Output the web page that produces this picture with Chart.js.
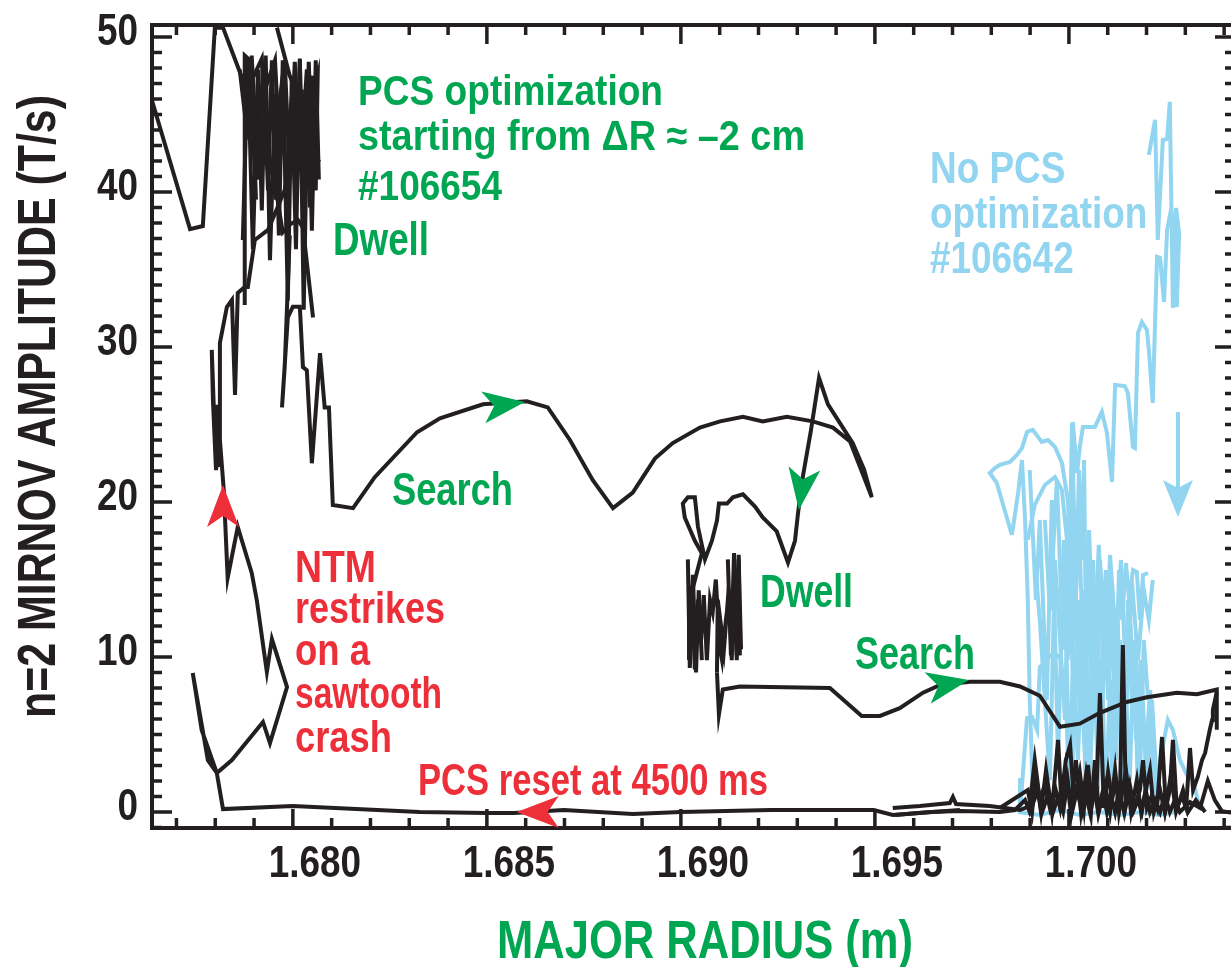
<!DOCTYPE html>
<html>
<head>
<meta charset="utf-8">
<title>n=2 Mirnov amplitude vs major radius</title>
<script src="https://cdn.jsdelivr.net/npm/chart.js@4.4.1/dist/chart.umd.min.js"></script>
<style>
  html, body { margin: 0; padding: 0; background: #fff; overflow: hidden; }
  #wrap { width: 1240px; height: 967px; }
  canvas { display: block; }
</style>
</head>
<body>
<div id="wrap"><canvas id="myChart" width="1240" height="967"></canvas></div>
<script>
// ---- shot #106654 (PCS optimization), major radius R (m) vs amplitude (T/s)
const startR = [1.67637, 1.67735, 1.67768, 1.67799, 1.67820, 1.67876, 1.67920, 1.67954, 1.67974, 1.67992, 1.68013, 1.68026, 1.68052];
const startAmp = [45.9, 37.6, 37.8, 50.6, 50.6, 46.9, 43.7, 40.5, 37.4, 37.9, 38.2, 37.7, 31.9];

const dwellR = [1.67876, 1.67876, 1.67889, 1.67905, 1.67894, 1.67920, 1.67930, 1.67941, 1.67928, 1.67954, 1.67966, 1.67974, 1.67985, 1.67992, 1.68000, 1.68010, 1.68018, 1.68026, 1.68031, 1.68036, 1.68044, 1.68049, 1.68052, 1.68057, 1.68070];
const dwellAmp = [32.7, 48.8, 48.5, 39.5, 47.2, 48.6, 43.4, 41.6, 46.6, 48.5, 42.7, 47.4, 37.4, 44.6, 46.8, 41.4, 48.6, 39.5, 45.9, 47.9, 39.0, 45.3, 47.5, 41.9, 42.1];

const dwellBR = [1.67863, 1.67884, 1.67894, 1.67910, 1.67923, 1.67936, 1.67946, 1.67956, 1.67966, 1.67979, 1.67992, 1.68005, 1.68013, 1.68023, 1.68031, 1.68041, 1.68046, 1.68054, 1.68059, 1.68064, 1.68031, 1.68010, 1.67992, 1.67959];
const dwellBAmp = [47.9, 43.4, 48.8, 40.8, 48.2, 40.1, 48.5, 39.5, 45.9, 48.5, 41.1, 48.4, 43.4, 46.6, 40.8, 48.4, 44.6, 46.6, 40.1, 47.5, 44.0, 46.3, 47.5, 50.6];

const dwellCR = [1.67871, 1.67884, 1.67897, 1.67910, 1.67920, 1.67930, 1.67941, 1.67954, 1.67964, 1.67974, 1.67987, 1.67997, 1.68008, 1.68018, 1.68028, 1.68039, 1.68049, 1.68059, 1.68067];
const dwellCAmp = [36.9, 48.5, 36.3, 47.9, 38.8, 48.8, 35.6, 46.3, 37.2, 48.5, 33.0, 47.2, 36.3, 48.5, 32.4, 47.5, 37.5, 48.5, 40.8];

const searchR = [1.67992, 1.67979, 1.67972, 1.67987, 1.68000, 1.68018, 1.68026, 1.68036, 1.68049, 1.68070, 1.68082, 1.68093, 1.68103, 1.68155, 1.68211, 1.68320, 1.68379, 1.68490, 1.68603, 1.68657, 1.68714, 1.68773, 1.68825, 1.68876, 1.68933, 1.68979, 1.69049, 1.69101, 1.69160, 1.69211, 1.69273, 1.69340, 1.69392, 1.69436, 1.69461, 1.69492, 1.69472, 1.69443, 1.69379, 1.69356, 1.69335, 1.69314, 1.69302, 1.69294, 1.69276, 1.69247, 1.69211, 1.69191, 1.69160, 1.69134, 1.69119, 1.69098, 1.69093, 1.69080, 1.69062, 1.69044, 1.69036, 1.69018, 1.69005, 1.69010, 1.69036, 1.69054];
const searchAmp = [37.2, 28.7, 26.1, 31.9, 32.6, 32.6, 28.7, 28.5, 22.5, 29.6, 26.1, 26.1, 19.8, 19.6, 21.6, 24.5, 25.4, 26.3, 26.5, 26.1, 24.0, 21.4, 19.6, 20.6, 22.8, 23.8, 24.8, 25.2, 25.5, 25.2, 25.5, 25.2, 24.8, 23.9, 22.3, 20.3, 22.1, 23.8, 26.3, 28.0, 24.6, 21.6, 19.3, 17.5, 16.1, 18.1, 19.0, 19.7, 20.5, 20.3, 19.9, 19.9, 18.8, 17.5, 16.3, 18.4, 20.3, 20.3, 19.9, 19.0, 17.5, 16.7];

const dwellMidR = [1.69054, 1.69023, 1.69021, 1.69028, 1.69036, 1.69044, 1.69052, 1.69059, 1.69067, 1.69075, 1.69082, 1.69090, 1.69101, 1.69106, 1.69116, 1.69124, 1.69131, 1.69139, 1.69144, 1.69149, 1.69152, 1.69142, 1.69134, 1.69121, 1.69111, 1.69095, 1.69093];
const dwellMidAmp = [16.7, 13.7, 9.8, 14.6, 9.2, 13.7, 11.1, 14.0, 9.8, 13.7, 12.9, 15.0, 10.5, 9.8, 12.4, 14.0, 9.8, 15.3, 10.1, 16.6, 10.1, 14.3, 11.1, 13.7, 10.5, 13.7, 9.0];

const dwellMidBR = [1.69018, 1.69023, 1.69031, 1.69039, 1.69046, 1.69054];
const dwellMidBAmp = [16.3, 9.3, 15.3, 9.0, 14.3, 9.8];

const dwellMidCR = [1.69121, 1.69129, 1.69137, 1.69144, 1.69149, 1.69155];
const dwellMidCAmp = [16.3, 10.1, 16.7, 9.8, 16.3, 10.5];

const search2R = [1.69093, 1.69098, 1.69108, 1.69152, 1.69384, 1.69466, 1.69513, 1.69564, 1.69624, 1.69668, 1.69745, 1.69822, 1.69874, 1.69925, 1.69977, 1.70028, 1.70080, 1.70149, 1.70201, 1.70278, 1.70330, 1.70381, 1.70381];
const search2Amp = [9.0, 6.3, 7.9, 8.1, 8.0, 6.2, 6.2, 6.7, 7.7, 8.2, 8.4, 8.4, 8.1, 7.5, 5.5, 5.7, 6.4, 7.1, 7.4, 7.7, 7.6, 7.9, 5.3];

const burstR = [1.69546, 1.69616, 1.69693, 1.69701, 1.69709, 1.69796, 1.69874, 1.69899, 1.69912, 1.69925, 1.69938, 1.69951, 1.69966, 1.69977, 1.69992, 1.70003, 1.70013, 1.70028, 1.70039, 1.70049, 1.70059, 1.70072, 1.70080, 1.70090, 1.70101, 1.70111, 1.70121, 1.70131, 1.70139, 1.70147, 1.70157, 1.70168, 1.70183, 1.70191, 1.70201, 1.70214, 1.70227, 1.70240, 1.70250, 1.70260, 1.70268, 1.70278, 1.70291, 1.70302, 1.70312, 1.70320, 1.70332, 1.70343, 1.70351, 1.70356, 1.70363, 1.70369, 1.70371, 1.70381];
const burstAmp = [0.26, 0.39, 0.58, 0.97, 0.52, 0.39, 0.13, 0.39, 3.35, 0.77, 1.74, 0.26, 1.42, 0.26, 3.35, 4.32, 0.77, 2.58, 0.26, 3.03, 0.45, 2.06, 7.68, 0.26, 2.58, 0.77, 2.06, 0.26, 10.77, 0.45, 1.74, 0.26, 1.42, 3.35, 0.26, 1.10, 0.26, 4.84, 0.26, 1.42, 4.65, 0.26, 1.03, 0.26, 4.13, 1.42, 2.26, 3.35, 3.81, 4.45, 5.29, 5.94, 6.58, 7.74];

const burstBR = [1.69822, 1.69894, 1.69905, 1.69915, 1.69928, 1.69941, 1.69956, 1.69972, 1.69982, 1.69992, 1.70005, 1.70018, 1.70031, 1.70044, 1.70057, 1.70067, 1.70077, 1.70093, 1.70106, 1.70119, 1.70129, 1.70147, 1.70160, 1.70175, 1.70186, 1.70209, 1.70219, 1.70235, 1.70247, 1.70263, 1.70276, 1.70294, 1.70307, 1.70327, 1.70351];
const burstBAmp = [0.26, 1.42, 0, 2.39, 0, 2.71, 0, 4.65, 0, 2.71, 0, 3.35, 0, 2.39, 0, 3.35, 0, 1.74, 0, 2.71, 0, 2.71, 0, 2.06, 0, 2.71, 0, 1.42, 0, 2.39, 0, 1.42, 0, 0.77, 0];

const quietR = [1.69552, 1.69642, 1.69719, 1.69822, 1.69861, 1.69887, 1.69899, 1.69920, 1.69930, 1.69946, 1.69959, 1.69972, 1.69985, 1.69997, 1.70008, 1.70021, 1.70034, 1.70044, 1.70054, 1.70064, 1.70075, 1.70088, 1.70098, 1.70108, 1.70119, 1.70129, 1.70142, 1.70152, 1.70165, 1.70178, 1.70188, 1.70198, 1.70209, 1.70222, 1.70235, 1.70247, 1.70260, 1.70273, 1.70286, 1.70312, 1.70338, 1.70358, 1.70376, 1.70394, 1.70425];
const quietAmp = [-0.19, 0, 0.06, 0, 0.13, 0.77, 0, 1.42, -0.06, 1.10, 0, 0.97, 0, 2.06, 0, 1.42, 0, 1.10, 0, 1.74, 0, 1.42, 0, 1.10, 0, 1.42, 0, 1.10, 0, 0.77, 0, 1.42, 0, 0.77, 0, 1.10, 0, 0.77, 0, 0.65, 0.26, 2.0, 0.77, 0.06, -0.06];

// reset to the inner position, then the NTM comes back
const resetR = [1.69719, 1.69546, 1.69497, 1.69232, 1.69000, 1.68876, 1.68698, 1.68570, 1.68500, 1.68327, 1.68000, 1.67820, 1.67804, 1.67781, 1.67742, 1.67765, 1.67804, 1.67843, 1.67923, 1.67941, 1.67985, 1.67946, 1.67933, 1.67907, 1.67894, 1.67858, 1.67832, 1.67822, 1.67812, 1.67802, 1.67794, 1.67791, 1.67799, 1.67804, 1.67812, 1.67812, 1.67830, 1.67843, 1.67851, 1.67858, 1.67876, 1.67884, 1.67902, 1.67936, 1.67961, 1.67979, 1.68005, 1.68018];
const resetAmp = [0.13, -0.19, 0.13, 0.13, 0, -0.13, 0.13, -0.06, -0.06, 0, 0.39, 0.19, 2.52, 3.35, 8.97, 5.29, 2.52, 3.35, 5.81, 4.45, 8.06, 11.16, 9.03, 13.68, 15.42, 18.39, 15.10, 20.77, 24.0, 22.06, 26.58, 29.81, 24.19, 26.26, 22.26, 30.26, 32.58, 33.03, 26.90, 33.48, 33.87, 33.87, 36.90, 37.55, 39.03, 40.13, 44.6, 46.3];

// ---- shot #106642 (no PCS optimization)
const noPcsR = [1.70010, 1.70010, 1.70021, 1.70028, 1.70036, 1.70067, 1.70085, 1.70098, 1.70111, 1.70119, 1.70144, 1.70152, 1.70165, 1.70170, 1.70178, 1.70188, 1.70201, 1.70206, 1.70216, 1.70227, 1.70235, 1.70245, 1.70253, 1.70263, 1.70273, 1.70278, 1.70284, 1.70276, 1.70268, 1.70260, 1.70253, 1.70242, 1.70229, 1.70222, 1.70206];
const noPcsAmp = [0.77, 25.16, 21.87, 23.55, 24.84, 24.84, 25.81, 24.45, 21.29, 27.55, 27.48, 27.03, 23.55, 23.48, 30.90, 31.61, 31.10, 29.81, 26.39, 35.81, 35.74, 32.90, 37.55, 38.84, 37.55, 32.58, 37.35, 38.97, 32.52, 45.81, 43.42, 43.35, 36.90, 44.65, 42.39];

const noPcsLeftR = [1.69853, 1.69814, 1.69796, 1.69809, 1.69822, 1.69848, 1.69866, 1.69879, 1.69892, 1.69907, 1.69930, 1.69946, 1.69964, 1.69982, 1.69997, 1.70010, 1.70023, 1.70036, 1.70049];
const noPcsLeftAmp = [17.87, 21.23, 21.87, 22.19, 22.39, 22.58, 23.03, 23.48, 24.52, 24.65, 23.87, 24.0, 23.55, 22.52, 20.13, 16.26, 11.10, 5.94, 0.77];

const noPcsDropR = [1.69853, 1.69869, 1.69879, 1.69887, 1.69894, 1.69899, 1.69907];
const noPcsDropAmp = [17.87, 20.58, 22.71, 18.84, 13.68, 7.23, 1.42];

const noPcsLensR = [1.69894, 1.69912, 1.69938, 1.69964, 1.69982, 1.69995, 1.70003, 1.69997, 1.70008, 1.70018, 1.70026, 1.70034, 1.70039, 1.70044, 1.70054, 1.70062, 1.70067, 1.70075, 1.70080, 1.70090, 1.70095, 1.70106, 1.70111, 1.70121, 1.70129, 1.70137, 1.70147, 1.70155, 1.70165, 1.70175, 1.70183, 1.70191, 1.70204];
const noPcsLensAmp = [17.55, 19.81, 21.10, 21.61, 20.77, 17.55, 13.68, 9.81, 25.10, 13.68, 22.06, 16.26, 22.71, 11.10, 14.32, 16.26, 13.03, 7.23, 16.26, 12.39, 15.61, 11.10, 14.97, 7.23, 15.61, 12.39, 16.06, 13.68, 15.61, 15.48, 12.39, 15.29, 15.42];

const noPcsMidR = [1.69912, 1.69925, 1.69938, 1.69951, 1.69964, 1.69977, 1.69990, 1.69997, 1.70015, 1.70028, 1.70041, 1.70049, 1.70059, 1.70070, 1.70080, 1.70090, 1.70101, 1.70111, 1.70121, 1.70131, 1.70142, 1.70152, 1.70162, 1.70173, 1.70183, 1.70193, 1.70204];
const noPcsMidAmp = [16.26, 12.39, 7.23, 2.06, 16.26, 11.10, 5.94, 14.97, 7.23, 13.68, 4.65, 14.97, 7.87, 13.68, 3.35, 13.68, 7.23, 13.03, 3.35, 11.10, 4.65, 13.68, 7.23, 11.10, 2.06, 11.10, 7.23];

const noPcsSwingR = [1.69899, 1.69915, 1.69925, 1.69943, 1.69956, 1.69972, 1.69987, 1.70003, 1.70015, 1.70028, 1.70041, 1.70054, 1.70070, 1.70082, 1.70098, 1.70113, 1.70126, 1.70142, 1.70157, 1.70173, 1.70186, 1.70201, 1.70214, 1.70229];
const noPcsSwingAmp = [22.06, 13.68, 18.84, 7.23, 20.13, 3.35, 17.55, 0.77, 16.26, 5.94, 14.32, 2.06, 12.39, 4.65, 13.68, 1.42, 11.10, 3.35, 13.03, 4.65, 9.81, 1.42, 7.23, 0.77];

const noPcsBandR = [1.69938, 1.69951, 1.69969, 1.69985, 1.70000, 1.70013, 1.70026, 1.70039, 1.70052, 1.70064, 1.70077, 1.70093, 1.70106, 1.70121, 1.70134, 1.70149, 1.70162, 1.70178, 1.70193, 1.70206, 1.70216];
const noPcsBandAmp = [18.84, 13.03, 21.42, 10.45, 20.13, 11.10, 18.84, 7.87, 18.19, 9.81, 17.23, 8.52, 16.58, 11.10, 16.26, 7.23, 14.97, 9.81, 14.32, 12.39, 14.97];

const noPcsLowR = [1.69874, 1.69874, 1.69892, 1.69905, 1.69918, 1.69925, 1.69943, 1.69959, 1.69977, 1.69992, 1.70003, 1.70013, 1.70023, 1.70034, 1.70044, 1.70054, 1.70064, 1.70075, 1.70085, 1.70095, 1.70106, 1.70116, 1.70126, 1.70137, 1.70147, 1.70157, 1.70168, 1.70178, 1.70188, 1.70198, 1.70209, 1.70222, 1.70235, 1.70255, 1.70268, 1.70286, 1.70304, 1.70320, 1.70332, 1.70351];
const noPcsLowAmp = [2.19, 0, 6.06, 6.13, 5.29, 9.35, 9.81, 10.26, 10.0, 7.23, 0, 8.52, 3.35, 10.45, 0.77, 7.23, 11.10, 1.42, 9.81, 0, 8.52, 3.35, 12.39, 0.77, 7.87, 2.06, 11.10, 0.77, 7.23, 3.35, 7.87, 0.77, 3.35, 5.94, 5.29, 3.35, 2.39, 2.06, 0.77, 0];

const noPcsBaseR = [1.69869, 1.69925, 1.69977, 1.70028, 1.70080, 1.70131, 1.70183, 1.70235, 1.70273];
const noPcsBaseAmp = [0, -0.19, 0.13, -0.19, 0, -0.19, 0, -0.19, 0];

// arrowheads: tail -> tip, in data units
const arrowTailR = [1.67820, 1.68700, 1.68491, 1.69318, 1.69642, 1.70281];
const arrowTailAmp = [17.0, 0.0, 26.10, 22.13, 8.03, 25.8];
const arrowTipR = [1.67820, 1.68577, 1.68598, 1.69304, 1.69742, 1.70281];
const arrowTipAmp = [21.1, 0.0, 26.45, 19.48, 8.52, 19.03];

const black = "#231f20";
const green = "#00a651";
const red = "#ed2f39";
const blue = "#92d5f0";
const fontFamily = '"Liberation Sans", Arial, sans-serif';
const squeeze = 0.82; // condensed look for the bold sans

const arrowColors = [red, red, green, green, green, blue];

function toPoints(r, amp) {
  return r.map((v, i) => ({ x: v, y: amp[i] }));
}

function trace(r, amp, color) {
  return {
    data: toPoints(r, amp),
    showLine: true,
    borderColor: color,
    borderWidth: 4,
    borderJoinStyle: "miter",
    pointRadius: 0,
    tension: 0,
  };
}

// first dataset is drawn on top, so the black shot goes first
const datasets = [
  trace(startR, startAmp, black),
  trace(dwellR, dwellAmp, black),
  trace(dwellBR, dwellBAmp, black),
  trace(dwellCR, dwellCAmp, black),
  trace(searchR, searchAmp, black),
  trace(dwellMidR, dwellMidAmp, black),
  trace(dwellMidBR, dwellMidBAmp, black),
  trace(dwellMidCR, dwellMidCAmp, black),
  trace(search2R, search2Amp, black),
  trace(burstR, burstAmp, black),
  trace(burstBR, burstBAmp, black),
  trace(quietR, quietAmp, black),
  trace(resetR, resetAmp, black),
  trace(noPcsR, noPcsAmp, blue),
  trace(noPcsLeftR, noPcsLeftAmp, blue),
  trace(noPcsDropR, noPcsDropAmp, blue),
  trace(noPcsLensR, noPcsLensAmp, blue),
  trace(noPcsMidR, noPcsMidAmp, blue),
  trace(noPcsSwingR, noPcsSwingAmp, blue),
  trace(noPcsBandR, noPcsBandAmp, blue),
  trace(noPcsLowR, noPcsLowAmp, blue),
  trace(noPcsBaseR, noPcsBaseAmp, blue),
];

// bold text, squeezed sideways; width (px) wins over the default squeeze
function text(ctx, str, x, y, size, color, width, align) {
  ctx.save();
  ctx.font = "bold " + size + "px " + fontFamily;
  ctx.fillStyle = color;
  ctx.textAlign = align || "left";
  ctx.textBaseline = "alphabetic";
  const w = ctx.measureText(str).width;
  ctx.translate(x, y);
  ctx.scale(width ? width / w : squeeze, 1);
  ctx.fillText(str, 0, 0);
  ctx.restore();
}

function arrowHead(ctx, x0, y0, x1, y1, color, shaft) {
  const ang = Math.atan2(y1 - y0, x1 - x0);
  const len = shaft ? 37 : 42;
  const half = shaft ? 15 : 16;
  const notch = shaft ? 29 : 31;
  ctx.save();
  ctx.translate(x1, y1);
  ctx.rotate(ang);
  if (shaft) {
    const back = Math.hypot(x1 - x0, y1 - y0);
    ctx.strokeStyle = color;
    ctx.lineWidth = 4;
    ctx.beginPath();
    ctx.moveTo(-back, 0);
    ctx.lineTo(-notch + 2, 0);
    ctx.stroke();
  }
  ctx.fillStyle = color;
  ctx.beginPath();
  ctx.moveTo(0, 0);
  ctx.lineTo(-len, -half);
  ctx.lineTo(-notch, 0);
  ctx.lineTo(-len, half);
  ctx.closePath();
  ctx.fill();
  ctx.restore();
}

const framePlugin = {
  id: "frame",
  afterDatasetsDraw(chart) {
    const { ctx, chartArea: a, scales } = chart;
    const x = scales.x;
    const y = scales.y;
    ctx.save();
    ctx.strokeStyle = black;
    ctx.lineCap = "butt";

    // minor ticks every 1 mm, long ones every 5 mm, on both horizontal edges
    ctx.lineWidth = 3.5;
    for (let i = Math.ceil(x.min * 1000); i <= x.max * 1000; i++) {
      const px = x.getPixelForValue(i / 1000);
      const len = i % 5 === 0 ? 19 : 10;
      ctx.beginPath();
      ctx.moveTo(px, a.bottom);
      ctx.lineTo(px, a.bottom - len);
      ctx.moveTo(px, a.top);
      ctx.lineTo(px, a.top + len);
      ctx.stroke();
    }
    for (let j = Math.ceil(y.min); j <= y.max; j++) {
      const py = y.getPixelForValue(j);
      const len = j % 10 === 0 ? 20 : 10;
      ctx.beginPath();
      ctx.moveTo(a.left, py);
      ctx.lineTo(a.left + len, py);
      ctx.moveTo(a.right, py);
      ctx.lineTo(a.right - len, py);
      ctx.stroke();
    }
    ctx.lineWidth = 4;
    ctx.strokeRect(a.left, a.top, a.right - a.left, a.bottom - a.top);

    // tick labels from the scales' own ticks
    x.ticks.forEach((t) => {
      text(ctx, t.value.toFixed(3), x.getPixelForValue(t.value) + 22, 877, 45, black, 0, "center");
    });
    y.ticks.forEach((t) => {
      text(ctx, String(t.value), a.left - 14, y.getPixelForValue(t.value) + 8, 45, black, 0, "right");
    });

    // arrowheads along the traces
    arrowTipR.forEach((r, i) => {
      arrowHead(
        ctx,
        x.getPixelForValue(arrowTailR[i]), y.getPixelForValue(arrowTailAmp[i]),
        x.getPixelForValue(r), y.getPixelForValue(arrowTipAmp[i]),
        arrowColors[i], i === 5
      );
    });

    // annotations
    text(ctx, "PCS optimization", 358, 105, 42, green, 305);
    text(ctx, "starting from \u0394R \u2248 \u20132 cm", 358, 150, 42, green, 447);
    text(ctx, "#106654", 358, 200, 42, green, 144);
    text(ctx, "Dwell", 333, 255, 46, green, 96);
    text(ctx, "Search", 392, 505, 46, green, 121);
    text(ctx, "Dwell", 760, 607, 46, green, 93);
    text(ctx, "Search", 855, 669, 46, green, 120);

    text(ctx, "NTM", 295, 582, 44, red, 81);
    text(ctx, "restrikes", 295, 623, 44, red, 150);
    text(ctx, "on a", 295, 665, 44, red, 75);
    text(ctx, "sawtooth", 295, 708, 44, red, 147);
    text(ctx, "crash", 295, 752, 44, red, 97);
    text(ctx, "PCS reset at 4500 ms", 418, 795, 44, red, 350);

    text(ctx, "No PCS", 930, 183, 45, blue);
    text(ctx, "optimization", 930, 228, 45, blue);
    text(ctx, "#106642", 930, 273, 45, blue);

    // axis titles
    text(ctx, "MAJOR RADIUS (m)", 497, 958, 53, green, 416);
    ctx.save();
    ctx.translate(55, 718);
    ctx.rotate(-Math.PI / 2);
    text(ctx, "n=2 MIRNOV AMPLITUDE (T/s)", 0, 0, 53, black, 623);
    ctx.restore();

    ctx.restore();
  },
};

new Chart(document.getElementById("myChart"), {
  type: "scatter",
  data: { datasets: datasets },
  options: {
    responsive: false,
    animation: false,
    layout: { padding: { left: 0, right: 5, top: 25, bottom: 0 } },
    plugins: {
      legend: { display: false },
      tooltip: { enabled: false },
    },
    scales: {
      x: {
        type: "linear",
        min: 1.67637,
        max: 1.70428,
        border: { display: false },
        grid: { display: false, drawTicks: false },
        ticks: { stepSize: 0.005, includeBounds: false, display: false },
        afterFit: (s) => {
          s.height = 139;
        },
      },
      y: {
        type: "linear",
        min: -1.03,
        max: 50.77,
        border: { display: false },
        grid: { display: false, drawTicks: false },
        ticks: { stepSize: 10, includeBounds: false, display: false },
        afterFit: (s) => {
          s.width = 152;
        },
      },
    },
  },
  plugins: [framePlugin],
});
</script>
</body>
</html>
